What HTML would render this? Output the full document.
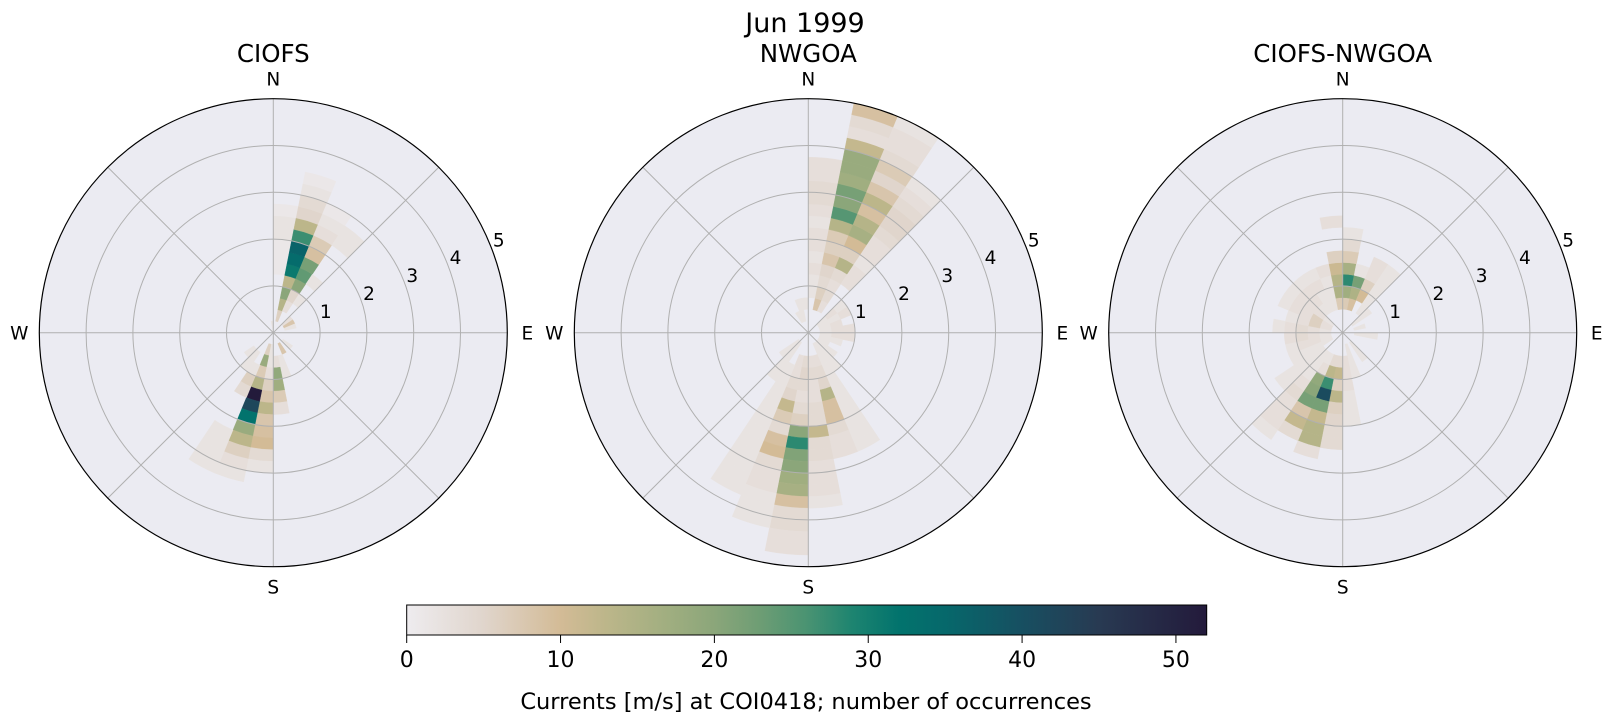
<!DOCTYPE html>
<html><head><meta charset="utf-8">
<style>
html,body{margin:0;padding:0;background:#fff;}
svg{display:block;font-family:"DejaVu Sans","Liberation Sans",sans-serif;}
</style></head>
<body>
<svg id="fig" width="1611" height="724" viewBox="0 0 1611 724" xmlns="http://www.w3.org/2000/svg">
<text x="805" y="32" font-size="27" text-anchor="middle">Jun 1999</text>
<g id="panels"></g>
<g id="colorbar"></g>
<text x="806" y="709" font-size="22.5" text-anchor="middle">Currents [m/s] at COI0418; number of occurrences</text>
</svg>
<script>
// ---- data: sector index (11.25 deg each, from North clockwise), counts per 0.25 m/s bin ----
const panelTitles = ["CIOFS", "NWGOA", "CIOFS-NWGOA"];
const ciofsSectors = [0,1,2,3,4,5,6,11,13,14,15,16,17,18,19,20,31];
const ciofsCounts = [
 [0,0,0,0,0,1,1,1,2,2,1],
 [0,6,14,20,13,31,34,36,27,13,5,4,2,1],
 [0,0,3,5,20,24,22,9,7,3,2,1],
 [0,0,0,2,0,2,0,0,0,2,2],
 [0,3],[0,8],[0,2],[0,2],[0,8],
 [0,0,2,2],
 [0,0,3,19,17,7,3],
 [0,2,2,3,6,8,13,8,9,10,4,2],
 [0,6,18,7,14,52,42,32,18,13,6,3,2],
 [0,0,0,2,6,4,0,0,0,2,2,2,2],
 [0,0,2,2],[0,0,2],[2]
];
const nwgoaSectors = [0,1,2,3,4,5,6,7,8,9,10,11,12,13,14,15,16,17,18,19,20,29,30,31];
const nwgoaCounts = [
 [0,0,0,2,2,3,2,3,3,2,3,4,4,3,3],
 [0,0,8,6,4,5,8,6,7,14,25,20,22,17,18,18,12,3,4,9],
 [0,0,3,4,3,4,14,6,10,16,14,9,13,8,5,7,4,3,3,2],
 [0,0,0,0,0,3,3,2,3,3,4,5,5,4,3,2],
 [0,2,3,2],[0,2,2,3],[0,2,3],[0,2,3,3],[0,2,3,3],[0,2,2],[0,2],[0,2,2],[0,2,2,2],
 [0,2,2,2,2,2,2,2,2,2,2],
 [0,0,3,4,5,14,9,9,4,3,3],
 [0,0,3,4,3,3,4,4,12,4,4,3,3,3,2],
 [0,0,4,5,4,3,4,6,20,28,21,20,17,16,9,4,4,3,3],
 [0,0,3,3,4,5,12,7,4,9,10,4,3,3,2,2,2],
 [0,0,0,2,2,2,2,2,2,2,2,2,2,2,2],
 [0,2,2,2,2],[0,2,2],[0,2],[0,2,2],[0,0,2]
];
const diffSectors = [0,1,2,3,4,6,8,12,14,15,16,17,18,19,20,21,22,23,24,25,26,27,28,29,30,31];
const diffCounts = [
 [0,0,7,17,28,16,7,4,2],
 [0,0,9,15,22,2],
 [0,0,0,10,6,3,3],
 [0,0,2,2,2,2,2],
 [0,2,2],[0,2],[0,2,2],[0,2,2],[0,2,2,2],
 [0,0,3,3,3,2,2,2],
 [0,0,4,12,6,13,6,5,4,4],
 [0,0,4,13,27,41,22,12,14,14,3],
 [0,0,2,3,19,20,22,8,12,4],
 [0,0,2,2,2,3,4,3,3,3,2],
 [0,0,2,2,2,2,2],
 [0,2,2,2,2],[0,2,3,3,2],[0,2,3,4,3],[0,2,3,4,3,2],
 [0,3,6,3,2],[0,3,6,3,3,2],[0,2,3,3,3,2],[0,0,2,3,3,2],[0,0,2,2,3,2],[0,0,2,2,2,3],
 [0,0,7,15,14,11,6,0,0,3]
];
const radialTicks = [1,2,3,4,5];
const compassLabels = ["N","E","S","W"];
const cbarTicks = [0,10,20,30,40,50];
const cmapVals = [0,5,10,13,17,20,23,26,29,32,35,40,45,52];
const cmapCols = ["#eeecef","#e0d5cc","#d3bb96","#bcb68a","#a0ae80","#8ba67a","#6d9d74","#4a9372","#1d8470","#02736d","#06686b","#174f61","#283a52","#231a3b"];

// ---- layout ----
const NS = "http://www.w3.org/2000/svg";
const centersX = [273.3, 808.3, 1342.7], centerY = 332.7, R = 234, rMax = 5;
const sectorWidth = 11.25, binWidth = 0.25, vmax = 52;
const rs = v => v / rMax * R;
function hex(c){return [1,3,5].map(i=>parseInt(c.substr(i,2),16));}
function cmap(v){
  v=Math.max(0,Math.min(vmax,v));
  for(let i=0;i<cmapVals.length-1;i++){
    if(v<=cmapVals[i+1]){
      const t=(v-cmapVals[i])/(cmapVals[i+1]-cmapVals[i]);
      const a=hex(cmapCols[i]),b=hex(cmapCols[i+1]);
      return "rgb("+a.map((x,k)=>Math.round(x+(b[k]-x)*t)).join(",")+")";
    }
  }
  return cmapCols[cmapCols.length-1];
}
function pt(cx,r,deg){const a=deg*Math.PI/180;return [cx+r*Math.sin(a), centerY-r*Math.cos(a)];}
function el(tag,attrs,parent){const e=document.createElementNS(NS,tag);for(const k in attrs)e.setAttribute(k,attrs[k]);parent.appendChild(e);return e;}

const panelsG = document.getElementById("panels");
const allSectors=[ciofsSectors,nwgoaSectors,diffSectors];
const allCounts=[ciofsCounts,nwgoaCounts,diffCounts];
const names=["ciofs","nwgoa","ciofs-nwgoa"];

for(let p=0;p<3;p++){
  const cx=centersX[p];
  const g=el("g",{},panelsG);
  
  
  const bg=el("circle",{cx:cx,cy:centerY,r:R,fill:"#ebebf2"},g);
  
  
  const cells=el("g",{},g);
  
  
  allSectors[p].forEach((s,si)=>{
    const a0=s*sectorWidth,a1=(s+1)*sectorWidth;
    allCounts[p][si].forEach((c,b)=>{
      if(c<=0)return;
      const r0=rs(b*binWidth),r1=rs((b+1)*binWidth);
      const p1=pt(cx,r0,a0),p2=pt(cx,r1,a0),p3=pt(cx,r1,a1),p4=pt(cx,r0,a1);
      const d="M"+p1+" L"+p2+" A"+r1+" "+r1+" 0 0 1 "+p3+" L"+p4+(r0>0?" A"+r0+" "+r0+" 0 0 0 "+p1:"")+" Z";
      const path=el("path",{d:d,fill:cmap(c),stroke:cmap(c),"stroke-width":0.4},cells);
      
      
    });
  });
  radialTicks.slice(0,-1).forEach(t=>{
    const ring=el("circle",{cx:cx,cy:centerY,r:rs(t),fill:"none",stroke:"#b0b0b0","stroke-width":1},g);
    
    
  });
  for(let a=0;a<360;a+=45){
    const q=pt(cx,R,a);
    const sp=el("line",{x1:cx,y1:centerY,x2:q[0],y2:q[1],stroke:"#b0b0b0","stroke-width":1},g);
    
    
  }
  const outer=el("circle",{cx:cx,cy:centerY,r:R,fill:"none",stroke:"#000","stroke-width":1.2},g);
  
  
  radialTicks.forEach(t=>{
    const q=pt(cx,rs(t)+10,67.5);
    const tx=el("text",{x:q[0],y:q[1]+7,"font-size":18.5,"text-anchor":"middle"},g);
    tx.textContent=t;
    
    
  });
  compassLabels.forEach((l,i)=>{
    const q=pt(cx,R+20,i*90);
    const tx=el("text",{x:q[0],y:q[1]+7,"font-size":18.5,"text-anchor":"middle"},g);
    tx.textContent=l;
    
    
  });
  const tt=el("text",{x:cx,y:62,"font-size":24.5,"text-anchor":"middle"},g);
  tt.textContent=panelTitles[p];
  
  
}

// ---- colorbar ----
const cb=document.getElementById("colorbar");
const cbX0=406.7,cbX1=1206.7,cbY0=605,cbY1=635;
const cbx=v=>cbX0+(v/vmax)*(cbX1-cbX0);
const defs=el("defs",{},cb);
const grad=el("linearGradient",{id:"cbg",x1:"0",x2:"1",y1:"0",y2:"0"},defs);
cmapVals.forEach((v,i)=>{el("stop",{offset:(v/vmax),"stop-color":cmapCols[i]},grad);});
const cbr=el("rect",{x:cbX0,y:cbY0,width:cbX1-cbX0,height:cbY1-cbY0,fill:"url(#cbg)",stroke:"#000","stroke-width":1},cb);


cbarTicks.forEach(t=>{
  const x=cbx(t);
  const ln=el("line",{x1:x,y1:cbY1,x2:x,y2:cbY1+8,stroke:"#000","stroke-width":1},cb);
  
  
  const tx=el("text",{x:x,y:667,"font-size":22,"text-anchor":"middle"},cb);
  tx.textContent=t;
  
  
});
</script>
</body></html>
